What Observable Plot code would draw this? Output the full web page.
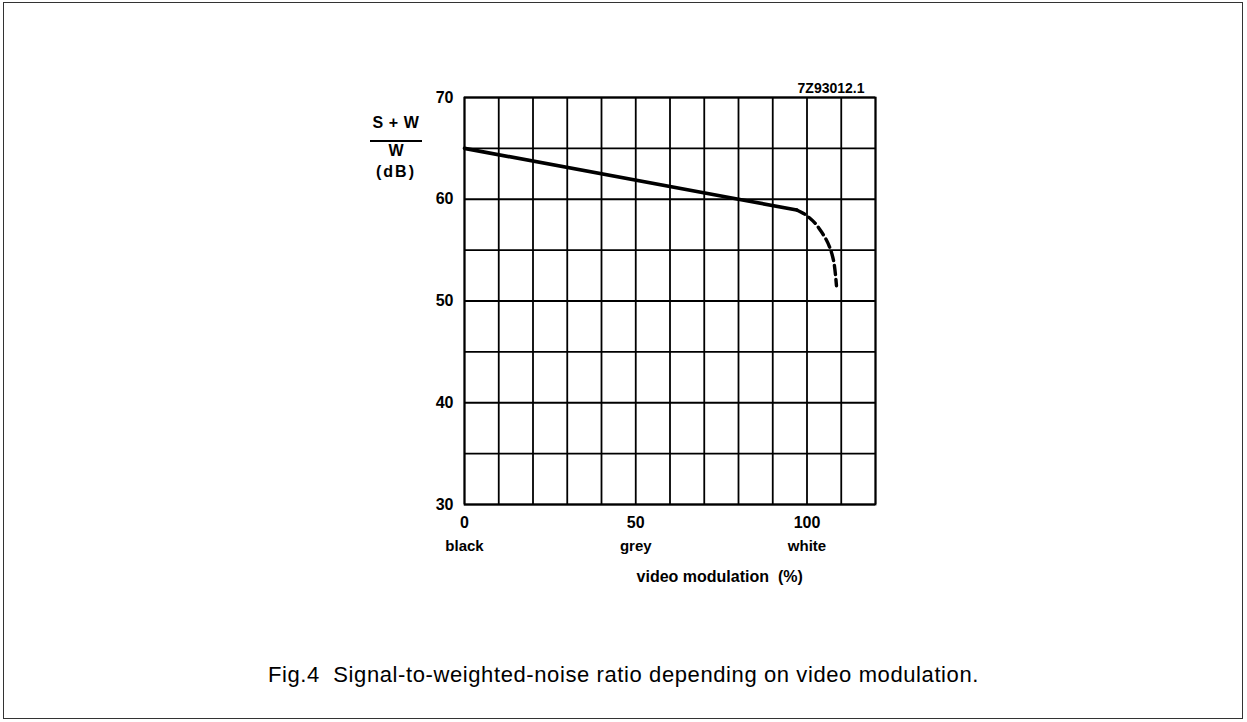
<!DOCTYPE html>
<html>
<head>
<meta charset="utf-8">
<script src="https://cdn.jsdelivr.net/npm/d3@7"></script>
<script src="https://cdn.jsdelivr.net/npm/@observablehq/plot@0.6"></script>
<style>
  html, body { margin: 0; padding: 0; background: #fff; }
  #page { position: relative; width: 1247px; height: 722px; overflow: hidden; }
  #border { position: absolute; left: 3px; top: 2px; width: 1240px; height: 717px; border: 1.5px solid #333; box-sizing: border-box; }
  #chart { position: absolute; left: 0; top: 0; }
  .yl { position: absolute; left: 356px; width: 80px; text-align: center; font-family: "Liberation Sans", Arial, sans-serif; font-weight: bold; font-size: 16px; line-height: 16px; color: #000; white-space: pre; }
  #ybar { position: absolute; left: 370px; top: 139.5px; width: 52px; height: 2px; background: #000; }
  #caption { position: absolute; left: 0; width: 1247px; top: 664px; text-align: center; font-family: "Liberation Sans", Arial, sans-serif; font-size: 22px; line-height: 22px; letter-spacing: 0.6px; color: #000; }
</style>
</head>
<body>
<div id="page">
  <div id="border"></div>
  <div id="chart"></div>
  <div class="yl" style="top:115px; letter-spacing:0.6px;">S + W</div>
  <div id="ybar"></div>
  <div class="yl" style="top:143px;">W</div>
  <div class="yl" style="top:164px; letter-spacing:2px;">(dB)</div>
  <div id="caption">Fig.4&nbsp;&nbsp;Signal-to-weighted-noise ratio depending on video modulation.</div>
</div>
<script>
// Data
const solidX = [0, 80, 97];
const solidY = [65, 60, 58.95];
const dashX = [97, 99, 100.6, 102.5, 104, 105.5, 106.6, 107.8, 108.6];
const dashY = [58.95, 58.6, 58.2, 57.6, 56.9, 56.1, 55.3, 53.9, 51.5];
const xTicks = [0, 50, 100];
const xWords = ["black", "grey", "white"];
const yTicks = [30, 40, 50, 60, 70];
const xGrid = [0, 10, 20, 30, 40, 50, 60, 70, 80, 90, 100, 110, 120];
const yGrid = [30, 35, 40, 45, 50, 55, 60, 65, 70];
const code = "7Z93012.1";
const xTitle = "video modulation  (%)";

const solid = solidX.map((x, i) => ({x, y: solidY[i]}));
const dashed = dashX.map((x, i) => ({x, y: dashY[i]}));
const words = xTicks.map((x, i) => ({x, label: xWords[i]}));

const font = "'Liberation Sans', Arial, sans-serif";

const chart = Plot.plot({
  width: 1247,
  height: 640,
  marginLeft: 464,
  marginRight: 372,
  marginTop: 97,
  marginBottom: 136,
  style: {fontFamily: font, background: "transparent", color: "#000"},
  x: {domain: [0, 120]},
  y: {domain: [30, 70]},
  marks: [
    Plot.ruleX(xGrid, {stroke: "#000", strokeWidth: 1.8}),
    Plot.ruleY(yGrid, {stroke: "#000", strokeWidth: 1.8}),
    Plot.frame({stroke: "#000", strokeWidth: 1.8}),
    Plot.axisY({ticks: yTicks, tickSize: 0, tickPadding: 11, fontSize: 16, fontWeight: "bold", label: null}),
    Plot.axisX({ticks: xTicks, tickSize: 0, tickPadding: 12, fontSize: 16, fontWeight: "bold", label: null}),
    Plot.text(words, {x: "x", y: 30, text: "label", dy: 42, fontSize: 15, fontWeight: "bold"}),
    Plot.text([xTitle], {x: 74.5, y: 30, text: d => d, dy: 72, fontSize: 16, fontWeight: "bold", textAnchor: "middle", style: "white-space: pre; letter-spacing: 0.5px"}),
    Plot.text([code], {frameAnchor: "top-right", text: d => d, dx: -11, dy: -9, lineAnchor: "middle", fontSize: 14, fontWeight: "bold", textAnchor: "end", style: "letter-spacing: 2.3px"}),
    Plot.line(solid, {x: "x", y: "y", stroke: "#000", strokeWidth: 3.6}),
    Plot.line(dashed, {x: "x", y: "y", stroke: "#000", strokeWidth: 3.4, strokeDasharray: "9,5", curve: "catmull-rom"})
  ]
});
document.getElementById("chart").appendChild(chart);
</script>
</body>
</html>
